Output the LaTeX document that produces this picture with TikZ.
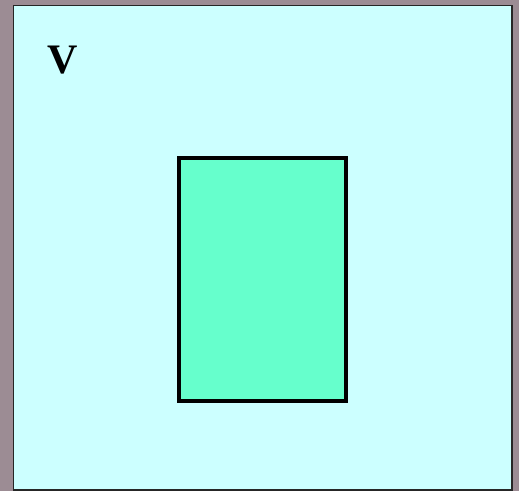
\documentclass[tikz,border=0pt]{standalone}
\usepackage{fontspec}
\setmainfont{Liberation Serif}
\definecolor{bgmauve}{HTML}{9C8C94}
\definecolor{lightcyan}{HTML}{CCFFFF}
\definecolor{mintgreen}{HTML}{66FFCC}
\tikzset{
  outerbox/.style={draw=black!85, line width=1.5pt, fill=lightcyan},
  innerbox/.style={draw=black, line width=4pt, fill=mintgreen},
  label/.style={font=\fontsize{42}{42}\selectfont\bfseries, inner sep=0pt}
}
\begin{document}
\begin{tikzpicture}[x=1pt,y=-1pt]
\fill[bgmauve] (0,0) rectangle (519,491);
\useasboundingbox (0,0) rectangle (519,491);
\draw[outerbox] (13.5,5.5) rectangle (512,490);
\draw[innerbox] (179,158) rectangle (346,401);
\node[label] (v) at (63,60) {V};
\end{tikzpicture}
\end{document}
